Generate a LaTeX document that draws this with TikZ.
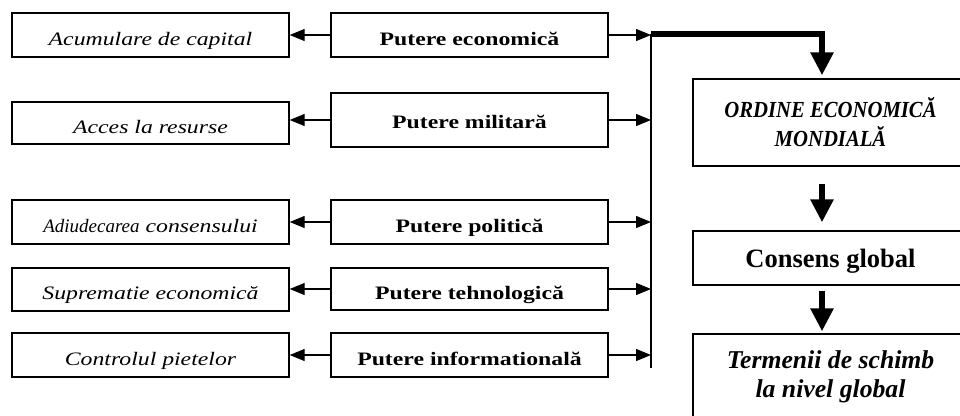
\documentclass[tikz,border=0pt]{standalone}
\usepackage{fontspec}
\setmainfont{Liberation Serif}
\newfontfamily\widefont{Liberation Serif}[FakeStretch=1.25]
\newfontfamily\narrowfont{Liberation Serif}[FakeStretch=0.9]
\usetikzlibrary{arrows.meta}

\begin{document}
\begin{tikzpicture}[x=1pt, y=-1pt,
  box/.style={draw, line width=1.4pt, inner sep=0pt, minimum width=277pt, text height=20pt, text depth=0pt},
  lbox/.style={box, minimum height=44pt, font=\widefont\fontsize{19}{22}\selectfont\itshape},
  pbox/.style={box, minimum height=44pt, font=\widefont\fontsize{19}{22}\selectfont\bfseries},
  rbox/.style={draw, line width=1.4pt, minimum width=275pt, align=center}]
\useasboundingbox (0,0) rectangle (960,415);
\clip (0,0) rectangle (960,415);

\node(acum)[lbox] at (150.5,35) {Acumulare de capital};
\node(acces)[lbox, minimum height=42pt] at (150.5,123) {Acces la resurse};
\node(adiud)[lbox] at (150.5,222) {{\rmfamily Adiudecarea} consensului};
\node(supr)[lbox, minimum height=43pt] at (150.5,289.5) {Suprematie economică};
\node(contr)[lbox] at (150.5,355) {Controlul pietelor};

\node(econ)[pbox] at (469.5,35) {Putere economică};
\node(milit)[pbox, minimum height=54pt, text height=17pt] at (469.5,120) {Putere militară};
\node(polit)[pbox] at (469.5,222) {Putere politică};
\node(tehno)[pbox, minimum height=42pt] at (469.5,289) {Putere tehnologică};
\node(infor)[pbox] at (469.5,355) {Putere informatională};

\node(ordine)[rbox, minimum height=87pt, font=\narrowfont\fontsize{23}{29}\selectfont\bfseries\itshape] at (830.5,122.5) {ORDINE ECONOMICĂ\\MONDIALĂ};
\node(consens)[rbox, minimum height=54pt, text depth=0pt, font=\fontsize{26.5}{30}\selectfont\bfseries] at (830.5,258) {Consens global};
\node(termeni)[rbox, minimum height=86pt, font=\fontsize{25.7}{29.5}\selectfont\bfseries\itshape] at (830.5,377) {Termenii de schimb\\la nivel global};

\coordinate (top) at (651,34);
\coordinate (bot) at (651,368);

\begin{scope}[line width=1.2pt, >={Triangle[length=15pt,width=12pt]}]
\draw[->] (econ.west) -- (acum.east);
\draw[->] (milit.west) -- (milit.west -| acces.east);
\draw[->] (polit.west) -- (adiud.east);
\draw[->] (tehno.west) -- (tehno.west -| supr.east);
\draw[->] (infor.west) -- (contr.east);

\draw[->] (econ.east) -- (econ.east -| top);
\draw[->] (milit.east) -- (milit.east -| top);
\draw[->] (polit.east) -- (polit.east -| top);
\draw[->] (tehno.east) -- (tehno.east -| top);
\draw[->] (infor.east) -- (infor.east -| top);
\draw[line width=1.4pt] (top) -- (bot);
\end{scope}

\begin{scope}[line width=6pt, line join=miter, >={Triangle[length=23pt,width=22pt]}]
\draw[->, shorten >=3pt] (top) -- ([xshift=-8.5pt]top -| ordine.north) -- ([xshift=-8.5pt]ordine.north);
\draw[->, shorten <=17pt, shorten >=8pt] ([xshift=-8.5pt]ordine.south) -- ([xshift=-8.5pt]consens.north);
\draw[->, shorten <=5pt, shorten >=2pt] ([xshift=-8.5pt]consens.south) -- ([xshift=-8.5pt]termeni.north);
\end{scope}
\end{tikzpicture}
\end{document}
